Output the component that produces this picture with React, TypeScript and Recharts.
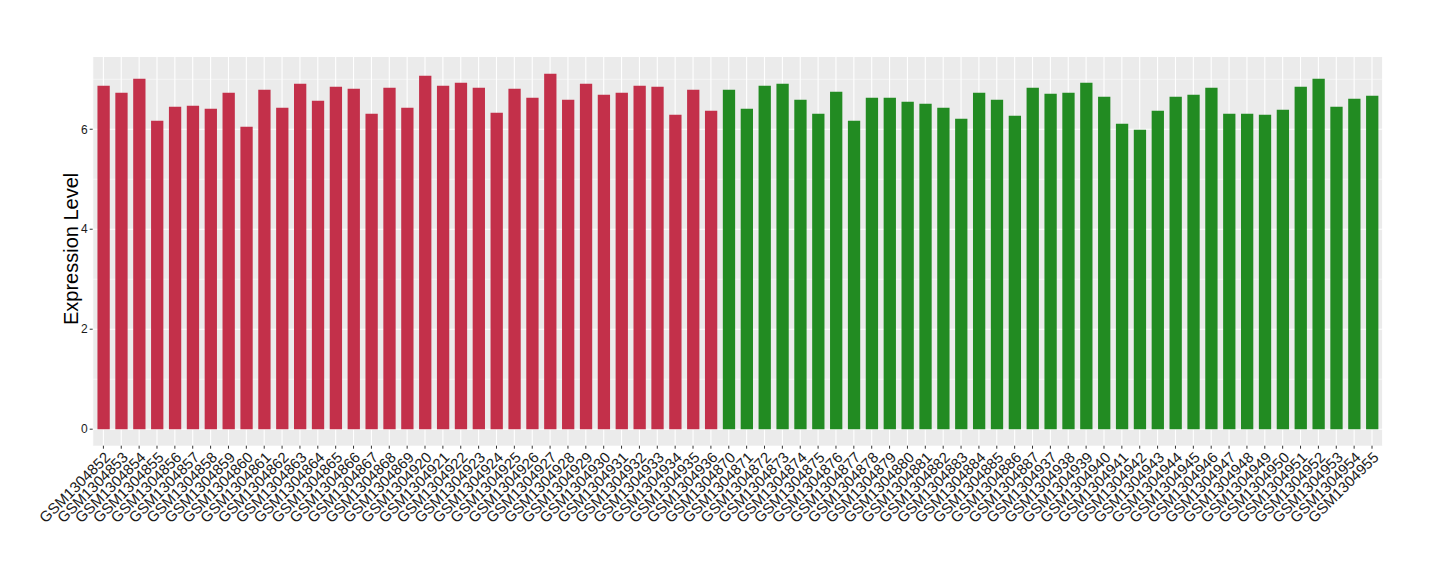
import { BarChart, Bar, XAxis, YAxis, CartesianGrid, Cell } from "recharts";

// first group (red)
const redSamples = [
  "GSM1304852", "GSM1304853", "GSM1304854", "GSM1304855", "GSM1304856", "GSM1304857",
  "GSM1304858", "GSM1304859", "GSM1304860", "GSM1304861", "GSM1304862", "GSM1304863",
  "GSM1304864", "GSM1304865", "GSM1304866", "GSM1304867", "GSM1304868", "GSM1304869",
  "GSM1304920", "GSM1304921", "GSM1304922", "GSM1304923", "GSM1304924", "GSM1304925",
  "GSM1304926", "GSM1304927", "GSM1304928", "GSM1304929", "GSM1304930", "GSM1304931",
  "GSM1304932", "GSM1304933", "GSM1304934", "GSM1304935", "GSM1304936",
];
const redValues = [
  6.87, 6.73, 7.01, 6.17, 6.45, 6.47, 6.41, 6.73, 6.05, 6.79, 6.43, 6.91,
  6.57, 6.85, 6.81, 6.31, 6.83, 6.43, 7.07, 6.87, 6.93, 6.83, 6.33, 6.81,
  6.63, 7.11, 6.59, 6.91, 6.69, 6.73, 6.87, 6.85, 6.29, 6.79, 6.37,
];

// second group (green)
const greenSamples = [
  "GSM1304870", "GSM1304871", "GSM1304872", "GSM1304873", "GSM1304874", "GSM1304875",
  "GSM1304876", "GSM1304877", "GSM1304878", "GSM1304879", "GSM1304880", "GSM1304881",
  "GSM1304882", "GSM1304883", "GSM1304884", "GSM1304885", "GSM1304886", "GSM1304887",
  "GSM1304937", "GSM1304938", "GSM1304939", "GSM1304940", "GSM1304941", "GSM1304942",
  "GSM1304943", "GSM1304944", "GSM1304945", "GSM1304946", "GSM1304947", "GSM1304948",
  "GSM1304949", "GSM1304950", "GSM1304951", "GSM1304952", "GSM1304953", "GSM1304954",
  "GSM1304955",
];
const greenValues = [
  6.79, 6.41, 6.87, 6.91, 6.59, 6.31, 6.75, 6.17, 6.63, 6.63, 6.55, 6.51,
  6.43, 6.21, 6.73, 6.59, 6.27, 6.83, 6.71, 6.73, 6.93, 6.65, 6.11, 5.99,
  6.37, 6.65, 6.69, 6.83, 6.31, 6.31, 6.29, 6.39, 6.85, 7.01, 6.45, 6.61,
  6.67,
];

const yTicks = [0, 2, 4, 6];
const yMinor = [1, 3, 5, 7];

const RED = "#C3304A";
const GREEN = "#228B22";

const data = [
  ...redSamples.map((s, i) => ({ sample: s, value: redValues[i], color: RED })),
  ...greenSamples.map((s, i) => ({ sample: s, value: greenValues[i], color: GREEN })),
];

const FONT = "'Liberation Sans', Arial, Helvetica, sans-serif";

function XTick({ x, y, payload }: any) {
  return (
    <g transform={`translate(${x},${y})`}>
      <text
        textAnchor="end"
        transform="rotate(-45)"
        dy="0.72em"
        fontSize={15}
        fontFamily={FONT}
        fill="#1a1a1a"
      >
        {payload.value}
      </text>
    </g>
  );
}

function YTitle({ viewBox }: any) {
  const cy = viewBox.y + viewBox.height / 2 - 2.5;
  return (
    <text
      x={63}
      y={cy}
      transform={`rotate(-90, 63, ${cy})`}
      textAnchor="middle"
      dominantBaseline="central"
      fontSize={20}
      fontFamily={FONT}
      fill="#000"
    >
      Expression Level
    </text>
  );
}

export default function App() {
  return (
    <BarChart
      width={1424}
      height={564}
      data={data}
      margin={{ top: 49, right: 49.3, left: 24.7, bottom: 0 }}
      barSize={12.3}
    >
      <CartesianGrid
        fill="#EBEBEB"
        stroke="#FFFFFF"
        strokeWidth={1.1}
        horizontalValues={yTicks}
      />
      <CartesianGrid
        vertical={false}
        stroke="#FFFFFF"
        strokeWidth={0.55}
        horizontalValues={yMinor}
      />
      <XAxis
        dataKey="sample"
        interval={0}
        height={126.3}
        padding={{ left: 1.76, right: 1.76 }}
        axisLine={false}
        tickSize={3}
        tickMargin={2}
        tickLine={{ stroke: "#333333" }}
        tick={<XTick />}
      />
      <YAxis
        width={60}
        type="number"
        domain={[-0.33, 7.445]}
        ticks={yTicks}
        allowDataOverflow
        axisLine={false}
        tickSize={3}
        tickMargin={2}
        tickLine={{ stroke: "#333333" }}
        tick={{ fontSize: 12, fontFamily: FONT, fill: "#1a1a1a" }}
        label={<YTitle />}
      />
      <Bar dataKey="value" isAnimationActive={false}>
        {data.map((d) => (
          <Cell key={d.sample} fill={d.color} />
        ))}
      </Bar>
    </BarChart>
  );
}
